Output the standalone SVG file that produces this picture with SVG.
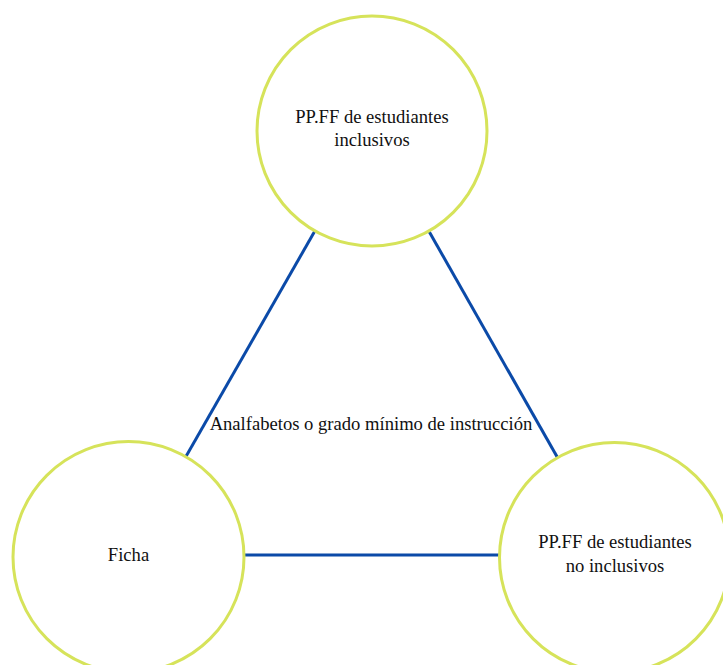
<svg xmlns="http://www.w3.org/2000/svg" width="723" height="665" viewBox="0 0 723 665">
  <style>
    .edge { stroke: #0b4aa8; stroke-width: 3; fill: none; }
    .node circle { fill: #ffffff; stroke: #d6e35a; stroke-width: 3; }
    text { font-family: "Liberation Serif", "Times New Roman", serif; font-size: 18.6px; fill: #111111; text-anchor: middle; }
  </style>
  <rect width="723" height="665" fill="#ffffff"/>
  <g id="connectors">
    <line class="edge" x1="372" y1="131" x2="128.5" y2="557"/>
    <line class="edge" x1="372" y1="131" x2="614" y2="557"/>
    <line class="edge" x1="128.5" y1="555" x2="614" y2="555"/>
  </g>
  <g id="node-inclusivos" class="node">
    <circle cx="372" cy="131" r="115"/>
    <text x="372" y="123">PP.FF de estudiantes</text>
    <text x="372" y="146">inclusivos</text>
  </g>
  <g id="node-ficha" class="node">
    <circle cx="128.5" cy="557" r="115.5"/>
    <text x="128.5" y="561">Ficha</text>
  </g>
  <g id="node-no-inclusivos" class="node">
    <circle cx="614.5" cy="557.5" r="115"/>
    <text x="615" y="548">PP.FF de estudiantes</text>
    <text x="615" y="572">no inclusivos</text>
  </g>
  <g id="label-center">
    <text x="371" y="430">Analfabetos o grado mínimo de instrucción</text>
  </g>
</svg>
